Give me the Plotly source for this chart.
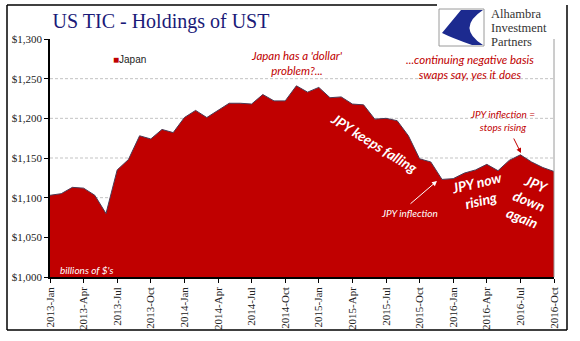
import plotly.graph_objects as go

# ---- data ----
months = ["Jan", "Feb", "Mar", "Apr", "May", "Jun", "Jul", "Aug", "Sep", "Oct", "Nov", "Dec"]
categories = [f"{y}-{m}" for y in (2013, 2014, 2015, 2016) for m in months][:46]
japan = [1103, 1105, 1113, 1112, 1103, 1080, 1135, 1148, 1178, 1174, 1186, 1182,
         1201, 1210, 1201, 1210, 1219, 1219, 1218, 1230, 1222, 1222, 1241, 1233,
         1239, 1226, 1227, 1218, 1217, 1199, 1200, 1197, 1178, 1149, 1145, 1123,
         1124, 1131, 1135, 1142, 1134, 1147, 1154, 1145, 1138, 1133]
tick_labels = categories[::3]
y_ticks = [1000, 1050, 1100, 1150, 1200, 1250, 1300]
y_tick_text = [f"${v:,}" for v in y_ticks]
grid_vals = [1050, 1100, 1150, 1200, 1250]

W, H = 580, 341
L, R, T, B = 50, 554, 39, 277


def px(x):
    return (x - L) / (R - L)


def py(y):
    return (B - y) / (B - T)


RED = "#C00000"
ANN_FONT = "Lato"

fig = go.Figure()
fig.add_trace(go.Scatter(
    x=categories, y=japan, mode="lines", fill="tozeroy",
    fillcolor=RED, line=dict(color="#4a3a55", width=1),
    name="Japan", showlegend=False, hoverinfo="x+y"))

shapes = []
for g in grid_vals:
    shapes.append(dict(type="line", xref="paper", yref="y", x0=0, x1=1, y0=g, y1=g,
                       line=dict(color="#b4b4b4", width=0.8, dash="3px,2px"), layer="below"))
# plot right border
shapes.append(dict(type="line", xref="paper", yref="paper", x0=1, x1=1, y0=0, y1=1,
                   line=dict(color="#9a9a9a", width=1)))
# outer frame
fx0, fx1, fy0, fy1 = 7, 567, 5, 330
blk = dict(color="black", width=1.5)
shapes += [
    dict(type="line", xref="paper", yref="paper", x0=px(fx0), x1=px(fx0), y0=py(fy0), y1=py(fy1), line=blk),
    dict(type="line", xref="paper", yref="paper", x0=px(fx0), x1=px(fx1), y0=py(fy1), y1=py(fy1), line=blk),
    dict(type="line", xref="paper", yref="paper", x0=px(fx1), x1=px(fx1), y0=py(fy0), y1=py(fy1), line=blk),
    dict(type="line", xref="paper", yref="paper", x0=px(fx0), x1=px(437), y0=py(fy0), y1=py(fy0), line=blk),
]
# logo box
shapes.append(dict(type="rect", xref="paper", yref="paper", x0=px(439), x1=px(484), y0=py(46), y1=py(9),
                   line=dict(color="#9a9a9a", width=1), fillcolor="white"))


def path(points):
    s = ""
    for cmd, pts in points:
        s += cmd + " " + " ".join(f"{px(a):.4f},{py(b):.4f}" for a, b in pts) + " "
    return s + "Z"


logo_path = path([("M", [(461, 10)]), ("L", [(483, 10), (483, 21)]),
                  ("Q", [(456, 28), (483, 45)]), ("L", [(472, 45)]),
                  ("Q", [(452, 38), (442, 33)])])
shapes.append(dict(type="path", xref="paper", yref="paper", path=logo_path,
                   fillcolor="#1c2a8f", line=dict(width=0)))

ann = []


def text(x, y, t, size=11, color=RED, italic=True, bold=False, angle=0, family=ANN_FONT, align="center", xanchor="center"):
    s = t
    if bold:
        s = f"<b>{s}</b>"
    if italic:
        s = f"<i>{s}</i>"
    ann.append(dict(x=px(x), y=py(y), xref="paper", yref="paper", text=s, showarrow=False,
                    font=dict(size=size, color=color, family=family), textangle=angle,
                    align=align, xanchor=xanchor, yanchor="middle"))


text(297, 63, "Japan has a 'dollar'<br>problem?...", size=11.5)
text(470, 67, "...continuing negative basis<br>swaps say, yes it does", size=11.5)
text(502, 120, "JPY inflection =<br>stops rising", size=10)
text(409, 213, "JPY inflection", size=10, color="white")
text(375, 143, "JPY keeps falling", size=14, color="white", bold=True, angle=32)
text(478, 192, "JPY now<br>rising", size=14, color="white", bold=True, angle=-13)
text(529, 200, "JPY<br>down<br>again", size=14, color="white", bold=True, angle=22)
text(58, 270, "billions of $'s", size=10, color="white", xanchor="left")

# arrows
ann.append(dict(x=px(437), y=py(181), xref="paper", yref="paper", text="", showarrow=True,
                ax=-28, ay=24, arrowhead=2, arrowsize=1, arrowwidth=1, arrowcolor="white"))
ann.append(dict(x=px(521), y=py(153), xref="paper", yref="paper", text="", showarrow=True,
                ax=-8, ay=-16, arrowhead=2, arrowsize=1, arrowwidth=1, arrowcolor=RED))

# legend-like label
ann.append(dict(x=px(111), y=py(59), xref="paper", yref="paper",
                text=f"<span style='color:{RED}'>■</span>Japan", showarrow=False,
                font=dict(size=10, color="#222", family="Liberation Sans"),
                xanchor="left", yanchor="middle"))

# logo text
for i, line in enumerate(["Alhambra", "Investment", "Partners"]):
    ann.append(dict(x=px(489), y=py(14 + 14 * i), xref="paper", yref="paper", text=line,
                    showarrow=False, font=dict(size=12.5, color="#333", family="Liberation Serif"),
                    xanchor="left", yanchor="middle"))

fig.update_layout(
    width=W, height=H,
    margin=dict(l=L, r=W - R, t=T, b=H - B, pad=0),
    paper_bgcolor="white", plot_bgcolor="white",
    title=dict(text="US TIC - Holdings of UST", x=161 / W, xanchor="center",
               y=1 - 21 / H, yanchor="middle",
               font=dict(family="Liberation Serif", size=20, color="#1a1a78")),
    shapes=shapes, annotations=ann, showlegend=False,
    xaxis=dict(type="category", range=[0, 45], tickmode="array", tickvals=tick_labels,
               ticktext=tick_labels, tickangle=-90, ticks="outside", ticklen=4,
               tickcolor="black", showline=True, linecolor="black", linewidth=1.5,
               showgrid=False, zeroline=False,
               tickfont=dict(family="Liberation Serif", size=11, color="#222")),
    yaxis=dict(range=[1000, 1300], tickmode="array", tickvals=y_ticks, ticktext=y_tick_text,
               ticks="outside", ticklen=4, tickcolor="black", showline=True,
               linecolor="black", linewidth=1.5, showgrid=False, zeroline=False,
               tickfont=dict(family="Liberation Serif", size=11, color="#222")),
)

fig.write_html("out.html")
